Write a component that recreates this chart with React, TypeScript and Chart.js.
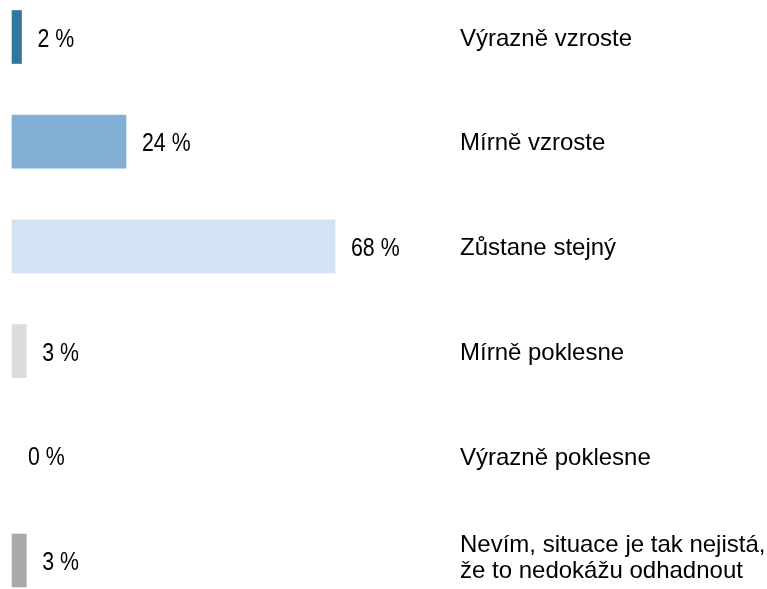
import React, { useEffect, useRef } from "react";
import { Chart, registerables } from "chart.js";

Chart.register(...registerables);

const categories: (string | string[])[] = [
  "Výrazně vzroste",
  "Mírně vzroste",
  "Zůstane stejný",
  "Mírně poklesne",
  "Výrazně poklesne",
  ["Nevím, situace je tak nejistá,", "že to nedokážu odhadnout"],
];
const values = [2, 24, 68, 3, 0, 3];
const barColors = ["#31769f", "#84afd4", "#d3e3f4", "#dcdcdc", "#bfbfbf", "#a9a9a9"];
const valueSuffix = " %";

export default function App() {
  const ref = useRef<HTMLCanvasElement>(null);

  useEffect(() => {
    if (!ref.current) return;
    const labelPlugin = {
      id: "barLabels",
      afterDatasetsDraw(chart: any) {
        const ctx = chart.ctx;
        const meta = chart.getDatasetMeta(0);
        ctx.save();
        ctx.fillStyle = "#000000";
        ctx.textAlign = "left";
        ctx.textBaseline = "alphabetic";
        meta.data.forEach((bar: any, i: number) => {
          const cy = bar.y;
          ctx.save();
          ctx.font = "26px 'Liberation Sans', Arial, sans-serif";
          ctx.translate(bar.x + 16, cy + 9.5);
          ctx.scale(0.82, 1);
          ctx.fillText(values[i] + valueSuffix, 0, 0);
          ctx.restore();

          ctx.font = "24px 'Liberation Sans', Arial, sans-serif";
          const cat = categories[i];
          const lines = Array.isArray(cat) ? cat : [cat];
          const lh = 26.7;
          const first = cy + 8.7 - (lines.length - 1) * 17.5;
          lines.forEach((ln, k) => {
            ctx.fillText(ln, 460, first + k * lh);
          });
        });
        ctx.restore();
      },
    };

    const chart = new Chart(ref.current, {
      type: "bar",
      data: {
        labels: categories.map((c) => (Array.isArray(c) ? c.join(" ") : c)),
        datasets: [
          {
            data: values,
            backgroundColor: (c: any) =>
              values[c.dataIndex] === 0 ? "rgba(0,0,0,0)" : barColors[c.dataIndex],
            borderWidth: 0,
            barThickness: 53,
            clip: false as any,
          },
        ],
      },
      options: {
        indexAxis: "y",
        animation: false,
        responsive: false,
        layout: { padding: { left: 12, right: 280, top: 37, bottom: 28.5 } },
        scales: {
          x: { display: false, min: 0, max: 100, grid: { display: false } },
          y: { display: false, offset: false, grid: { display: false } },
        },
        plugins: {
          legend: { display: false },
          tooltip: { enabled: false },
        },
      },
      plugins: [labelPlugin],
    });
    return () => chart.destroy();
  }, []);

  return (
    <div style={{ position: "fixed", left: 0, top: 0, width: 767, height: 589, background: "#ffffff" }}>
      <canvas ref={ref} width={767} height={589} style={{ display: "block" }} />
    </div>
  );
}
